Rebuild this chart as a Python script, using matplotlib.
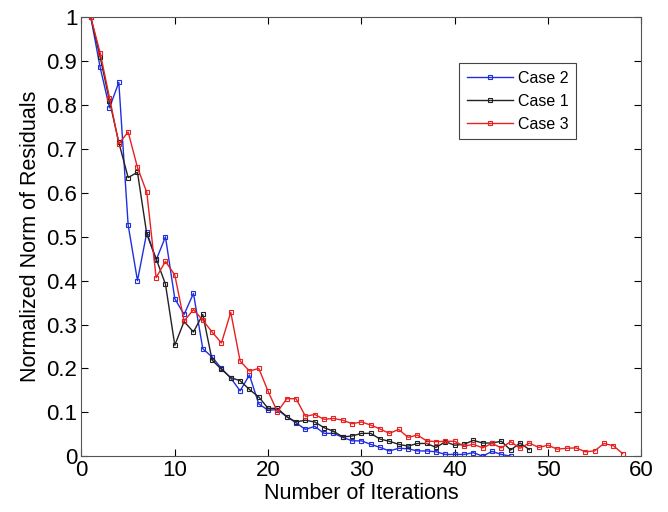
import matplotlib
matplotlib.use('Agg')
import matplotlib.pyplot as plt

plt.rcParams['font.family'] = ['Liberation Sans', 'DejaVu Sans']

# normalized residual norms, one value per iteration
case2 = [1.0, 0.886, 0.794, 0.852, 0.527, 0.40, 0.51, 0.447, 0.50, 0.359,
         0.323, 0.371, 0.245, 0.226, 0.20, 0.178, 0.149, 0.185, 0.119, 0.105,
         0.106, 0.09, 0.076, 0.061, 0.068, 0.052, 0.052, 0.043, 0.035, 0.035,
         0.027, 0.02, 0.012, 0.018, 0.017, 0.012, 0.012, 0.01, 0.004, 0.004,
         0.004, 0.008, 0.0, 0.011, 0.004, 0.0]
case1 = [1.0, 0.91, 0.81, 0.715, 0.635, 0.647, 0.506, 0.45, 0.392, 0.253,
         0.307, 0.283, 0.323, 0.219, 0.198, 0.179, 0.172, 0.152, 0.135, 0.109,
         0.109, 0.09, 0.078, 0.082, 0.078, 0.065, 0.057, 0.044, 0.046, 0.052,
         0.052, 0.039, 0.034, 0.027, 0.023, 0.029, 0.029, 0.02, 0.033, 0.025,
         0.027, 0.036, 0.03, 0.03, 0.034, 0.014, 0.03, 0.015]
case3 = [1.0, 0.919, 0.817, 0.712, 0.739, 0.658, 0.601, 0.407, 0.444, 0.413,
         0.308, 0.334, 0.31, 0.283, 0.258, 0.328, 0.217, 0.194, 0.20, 0.148,
         0.101, 0.131, 0.131, 0.091, 0.095, 0.084, 0.086, 0.082, 0.074, 0.078,
         0.071, 0.062, 0.052, 0.061, 0.043, 0.048, 0.035, 0.033, 0.034, 0.034,
         0.023, 0.027, 0.019, 0.029, 0.019, 0.033, 0.018, 0.03, 0.02, 0.025,
         0.016, 0.018, 0.019, 0.01, 0.012, 0.029, 0.024, 0.006]

x_ticks = [0, 10, 20, 30, 40, 50, 60]
y_ticks = [i / 10 for i in range(11)]
y_labels = ['0', '0.1', '0.2', '0.3', '0.4', '0.5', '0.6', '0.7', '0.8', '0.9', '1']

fig = plt.figure(figsize=(6.68, 5.12), dpi=100)
ax = fig.add_axes([0.122, 0.109, 0.838, 0.857])

style = dict(marker='s', markersize=3, markerfacecolor='none', linewidth=1.0, markeredgewidth=0.8)
ax.plot(range(1, len(case2) + 1), case2, color='#1f2fe0', label='Case 2', **style)
ax.plot(range(1, len(case1) + 1), case1, color='#222222', label='Case 1', **style)
ax.plot(range(1, len(case3) + 1), case3, color='#e82020', label='Case 3', **style)

ax.set_xlim(0, 60)
ax.set_ylim(0, 1)
ax.set_xticks(x_ticks)
ax.set_yticks(y_ticks)
ax.set_yticklabels(y_labels)
ax.tick_params(direction='in', top=True, right=True, labelsize=16, length=5, pad=3)
for s in ax.spines.values():
    s.set_color('#555555')

ax.set_xlabel('Number of Iterations', fontsize=15.5, labelpad=1)
ax.set_ylabel('Normalized Norm of Residuals', fontsize=15.5, labelpad=4)

leg = ax.legend(loc='upper left', bbox_to_anchor=(0.675, 0.895), fontsize=11.5,
                fancybox=False, edgecolor='#444444', framealpha=1, handlelength=2.9,
                handletextpad=0.35, borderpad=0.45, labelspacing=0.5,
                borderaxespad=0, numpoints=1)
leg.get_frame().set_linewidth(0.8)

fig.savefig('out.png', dpi=100)
